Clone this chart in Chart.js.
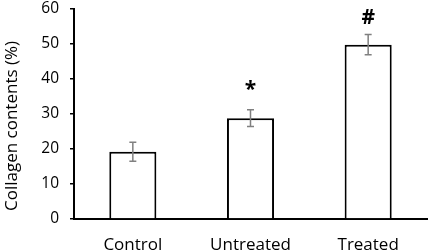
<!DOCTYPE html>
<html>
<head>
<meta charset="utf-8">
<script src="https://cdn.jsdelivr.net/npm/chart.js@4/dist/chart.umd.min.js"></script>
<style>
  body { margin: 0; background: #fff; }
  #chart { display: block; }
</style>
</head>
<body>
<canvas id="chart" width="429" height="252"></canvas>
<script>
// данные
const groups = ['Control', 'Untreated', 'Treated'];
const collagen = [19.2, 28.8, 49.8];
const errors = [2.7, 2.4, 2.9];
const marks = ['', '*', '#'];
const yTicks = [0, 10, 20, 30, 40, 50, 60];
const yTitle = 'Collagen contents (%)';

const fontName = '"Open Sans", "Noto Sans", sans-serif';

// усы погрешностей и значки над столбцами
const errorBars = {
    id: 'errorBars',
    afterDatasetsDraw(chart) {
        const ctx = chart.ctx;
        const meta = chart.getDatasetMeta(0);
        const y = chart.scales.y;
        ctx.save();
        meta.data.forEach((bar, i) => {
            const top = y.getPixelForValue(collagen[i] + errors[i]);
            const bottom = y.getPixelForValue(collagen[i] - errors[i]);
            ctx.strokeStyle = '#808080';
            ctx.lineWidth = 1.5;
            ctx.beginPath();
            ctx.moveTo(bar.x, top);
            ctx.lineTo(bar.x, bottom);
            ctx.moveTo(bar.x - 3.5, top);
            ctx.lineTo(bar.x + 3.5, top);
            ctx.moveTo(bar.x - 3.5, bottom);
            ctx.lineTo(bar.x + 3.5, bottom);
            ctx.stroke();

            if (marks[i]) {
                ctx.fillStyle = '#000';
                ctx.font = 'bold 21px ' + fontName;
                ctx.textAlign = 'center';
                ctx.textBaseline = 'middle';
                ctx.fillText(marks[i], bar.x, top - (marks[i] === '*' ? 20 : 17));
            }
        });
        ctx.restore();
    }
};

// подпись оси Y немного ниже центра, как в оригинале
const yTitlePlugin = {
    id: 'yTitle',
    afterDraw(chart) {
        const ctx = chart.ctx;
        const area = chart.chartArea;
        ctx.save();
        ctx.translate(12, (area.top + area.bottom) / 2 + 12);
        ctx.rotate(-Math.PI / 2);
        ctx.fillStyle = '#000';
        ctx.font = '17px ' + fontName;
        ctx.textAlign = 'center';
        ctx.textBaseline = 'middle';
        ctx.fillText(yTitle, 0, 0);
        ctx.restore();
    }
};

new Chart(document.getElementById('chart'), {
    type: 'bar',
    data: {
        labels: groups,
        datasets: [{
            data: collagen,
            backgroundColor: '#fff',
            borderColor: '#000',
            borderWidth: 2,
            barPercentage: 0.4,
            categoryPercentage: 1
        }]
    },
    options: {
        responsive: false,
        animation: false,
        layout: { padding: { top: 9, right: 2, left: 0, bottom: 0 } },
        plugins: {
            legend: { display: false },
            tooltip: { enabled: false }
        },
        scales: {
            x: {
                grid: { display: false, drawTicks: false },
                border: { display: true, color: '#000', width: 2 },
                ticks: {
                    color: '#000',
                    font: { family: fontName, size: 17 },
                    padding: 16
                },
                afterFit(scale) {
                    scale.height = 33;
                    scale.paddingLeft = 0;
                    scale.paddingRight = 0;
                }
            },
            y: {
                min: 0,
                max: 60,
                afterBuildTicks(scale) {
                    scale.ticks = yTicks.map(v => ({ value: v }));
                },
                grid: { drawOnChartArea: false, drawTicks: true, tickLength: 4, color: '#000', lineWidth: 1.5 },
                border: { display: true, color: '#000', width: 2 },
                ticks: {
                    color: '#000',
                    font: { family: fontName, size: 15.5 },
                    padding: 11
                },
                afterFit(scale) {
                    scale.width = 74;
                    scale.paddingTop = 0;
                    scale.paddingBottom = 0;
                }
            }
        }
    },
    plugins: [errorBars, yTitlePlugin]
});
</script>
</body>
</html>
